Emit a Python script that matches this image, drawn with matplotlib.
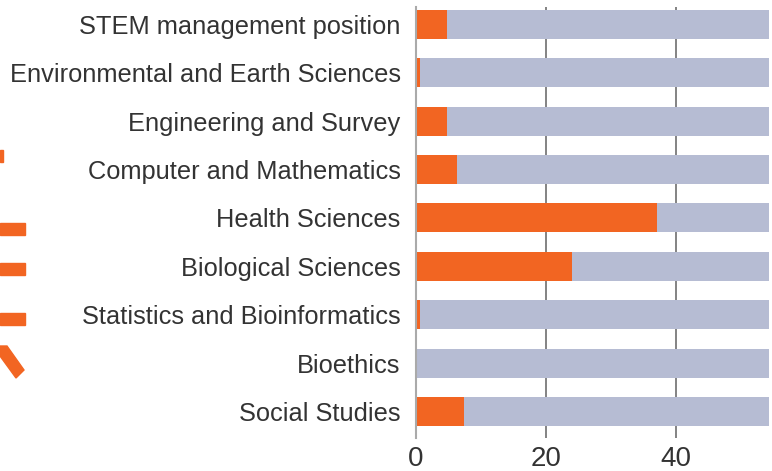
import matplotlib.pyplot as plt
from matplotlib.patches import Polygon

# ==========================================
# DATA
# ==========================================
CATEGORIES = [
    "STEM management position",
    "Environmental and Earth Sciences",
    "Engineering and Survey",
    "Computer and Mathematics",
    "Health Sciences",
    "Biological Sciences",
    "Statistics and Bioinformatics",
    "Bioethics",
    "Social Studies",
]
ORANGE_VALUES = [4.7, 0.6, 4.8, 6.3, 37.0, 24.0, 0.6, 0.0, 7.4]
TOTAL = 100
GRAY_VALUES = [TOTAL - v for v in ORANGE_VALUES]
X_TICKS = [0, 20, 40]

ORANGE = "#F26522"
GRAY = "#B6BCD3"
TEXT = "#333333"

plt.rcParams['font.family'] = ['Liberation Sans', 'DejaVu Sans']

fig = plt.figure(figsize=(7.72, 4.71), dpi=100)
ax = fig.add_axes([416 / 772, 1 - 438 / 471, (769 - 416) / 772, (438 - 7) / 471])

y = list(range(len(CATEGORIES)))
ax.barh(y, ORANGE_VALUES, height=0.6, color=ORANGE, zorder=3)
ax.barh(y, GRAY_VALUES, left=ORANGE_VALUES, height=0.6, color=GRAY, zorder=3)

ax.set_xlim(0, 54.3)
ax.set_ylim(8.55, -0.36)
ax.set_yticks(y)
ax.set_yticklabels(CATEGORIES, fontsize=18.3, color=TEXT)
ax.set_xticks(X_TICKS)
ax.set_xticklabels([str(t) for t in X_TICKS], fontsize=20, color=TEXT)
ax.tick_params(axis='y', length=0, pad=11)
ax.tick_params(axis='x', length=0, pad=6)

ax.grid(axis='x', color='#7a7a7a', linewidth=1.3, zorder=1)
for s in ['top', 'right', 'bottom']:
    ax.spines[s].set_visible(False)
ax.spines['left'].set_color('#aaaaaa')
ax.spines['left'].set_linewidth(1.5)
ax.spines['left'].set_zorder(4)

# decorative orange shapes at the left edge (background artwork)
W, H = 772, 471
def px_poly(pts):
    return Polygon([(px / W, 1 - py / H) for px, py in pts], closed=True,
                   transform=fig.transFigure, color=ORANGE, zorder=0)

for pts in [
    [(0, 150), (3, 150), (3, 162), (0, 162)],
    [(0, 223), (25, 223), (25, 235), (0, 235)],
    [(0, 263), (25, 263), (25, 275), (0, 275)],
    [(0, 313), (25, 313), (25, 325), (0, 325)],
    [(0, 346), (7, 346), (24, 370), (16, 378), (0, 356)],
]:
    fig.patches.append(px_poly(pts))

fig.savefig('out.png', dpi=100)
